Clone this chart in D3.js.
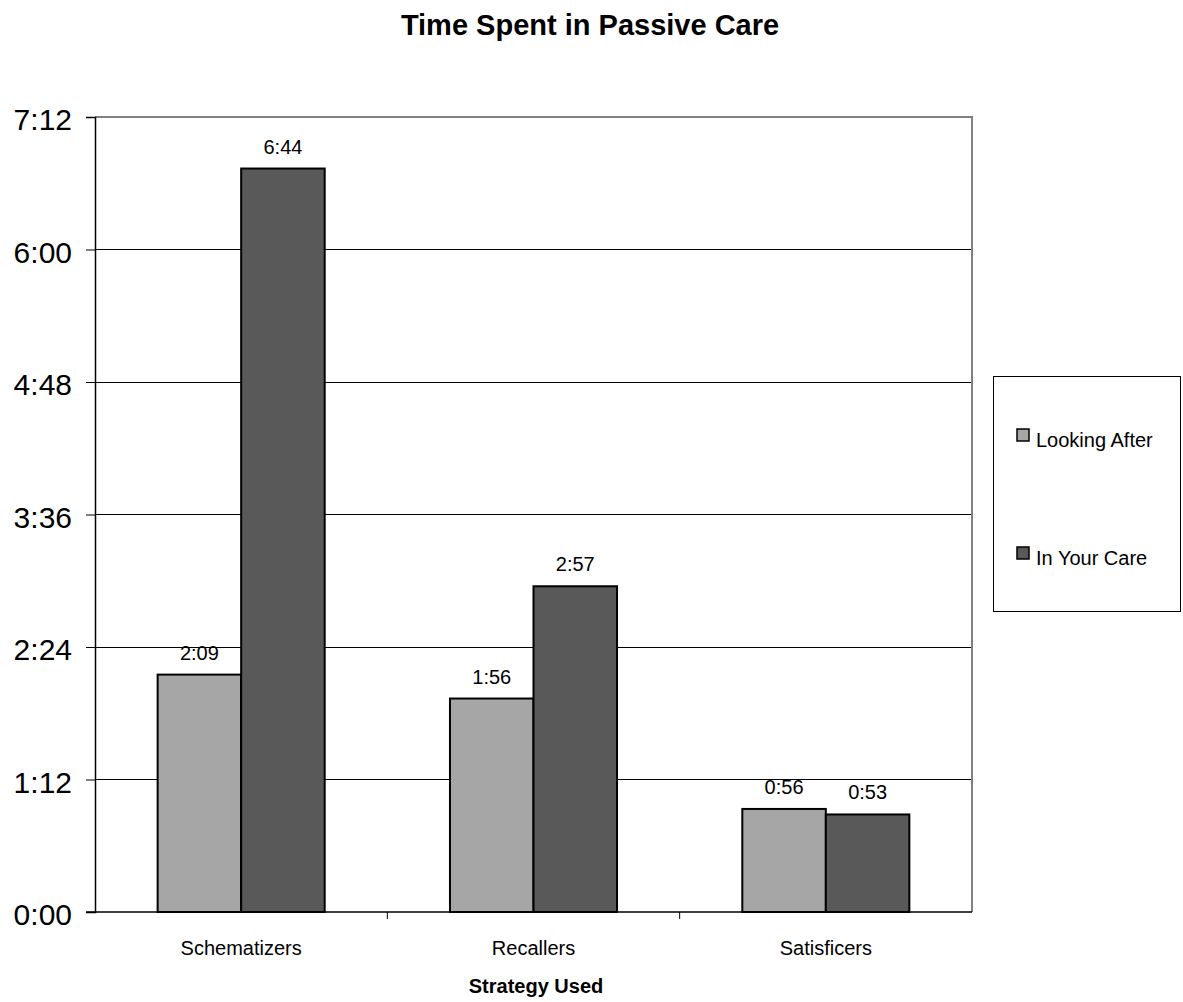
<!DOCTYPE html>
<html><head><meta charset="utf-8">
<script src="https://cdn.jsdelivr.net/npm/d3@7"></script>
<style>body{margin:0;background:#fff}svg{font-family:Arial,"Liberation Sans",sans-serif}</style>
</head><body><svg id="c" width="1183" height="1002"></svg>
<script>
const categories = ["Schematizers", "Recallers", "Satisficers"];
const seriesNames = ["Looking After", "In Your Care"];
const lookingAfter = [129, 116, 56];   // minutes (2:09, 1:56, 0:56)
const inYourCare = [404, 177, 53];     // (6:44, 2:57, 0:53)
const yTicks = [0, 72, 144, 216, 288, 360, 432];
const colors = ["#A6A6A6", "#595959"];

const fmt = v => Math.floor(v/60) + ":" + String(v%60).padStart(2,"0");
const svg = d3.select("#c");
const L = 95, R = 972, T = 117, B = 912;

const x = d3.scaleBand().domain(categories).range([L, R]).paddingInner(0).paddingOuter(0);
const y = d3.scaleLinear().domain([0, 432]).range([B, T]);
const inner = d3.scaleBand().domain(seriesNames).range([0, x.bandwidth()]).paddingInner(0).paddingOuter(0.75);

// title
svg.append("text").attr("x", 590).attr("y", 35).attr("text-anchor","middle")
  .attr("font-size", 29).attr("font-weight","bold").text("Time Spent in Passive Care");

// gridlines
svg.append("g").selectAll("line").data(yTicks.filter(t => t>0 && t<432)).join("line")
  .attr("x1", L).attr("x2", R).attr("y1", d=>y(d)).attr("y2", d=>y(d))
  .attr("stroke","#000").attr("stroke-width",1).attr("shape-rendering","crispEdges");

// plot border top/right
svg.append("path").attr("d", `M${L},${T}H${R}V${B}`).attr("fill","none")
  .attr("stroke","#808080").attr("stroke-width",2);

// bars
const data = categories.map((c,i)=>({c, vals:[lookingAfter[i], inYourCare[i]]}));
const g = svg.append("g");
data.forEach(d => {
  d.vals.forEach((v,j) => {
    const bx = x(d.c) + inner(seriesNames[j]);
    g.append("rect").attr("x", bx).attr("y", y(v)).attr("width", inner.bandwidth())
      .attr("height", y(0)-y(v)).attr("fill", colors[j]).attr("stroke","#000").attr("stroke-width",2);
    g.append("text").attr("x", bx + inner.bandwidth()/2).attr("y", y(v) - 15)
      .attr("text-anchor","middle").attr("font-size",20).text(fmt(v));
  });
});

// y axis
const yAxis = d3.axisLeft(y).tickValues(yTicks).tickFormat(fmt).tickSize(9).tickPadding(14);
const ya = svg.append("g").attr("transform",`translate(${L},0)`).call(yAxis);
ya.select(".domain").attr("stroke","#000").attr("stroke-width",1.5);
ya.selectAll(".tick line").attr("stroke","#000");
ya.selectAll("text").attr("font-size",30).attr("dy","0.42em")
  .attr("font-family","Arial, 'Liberation Sans', sans-serif").attr("fill","#000");

// x axis
const xa = svg.append("g").attr("transform",`translate(0,${B})`);
xa.append("line").attr("x1",L-9).attr("x2",R).attr("y1",0).attr("y2",0).attr("stroke","#000").attr("stroke-width",1.5);
xa.selectAll("line.tk").data(categories.slice(1)).join("line").attr("class","tk")
  .attr("x1",d=>x(d)).attr("x2",d=>x(d)).attr("y1",0).attr("y2",7).attr("stroke","#000");
xa.selectAll("text").data(categories).join("text")
  .attr("x", d=>x(d)+x.bandwidth()/2).attr("y", 43).attr("text-anchor","middle")
  .attr("font-size",20).text(d=>d);

svg.append("text").attr("x", 536).attr("y", 993).attr("text-anchor","middle")
  .attr("font-size",20).attr("font-weight","bold").text("Strategy Used");

// legend
const lg = svg.append("g");
lg.append("rect").attr("x",993.5).attr("y",376.5).attr("width",187).attr("height",235)
  .attr("fill","#fff").attr("stroke","#000").attr("stroke-width",1);
seriesNames.forEach((s,i)=>{
  const yy = 429 + i*118;
  lg.append("rect").attr("x",1017).attr("y",yy).attr("width",12).attr("height",12)
    .attr("fill",colors[i]).attr("stroke","#000").attr("stroke-width",1.5);
  lg.append("text").attr("x",1036).attr("y",yy+18).attr("font-size",20).text(s);
});
</script></body></html>
